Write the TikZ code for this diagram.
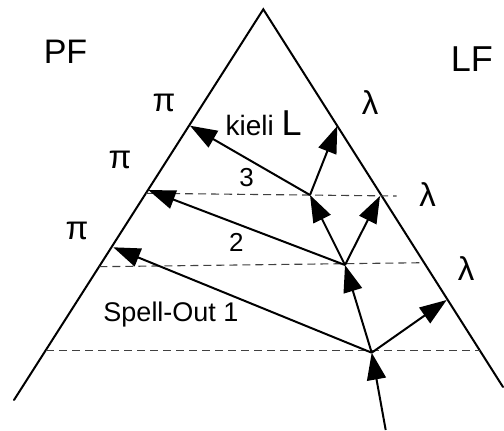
\documentclass[tikz,border=0pt]{standalone}
\usepackage{fontspec}
\setmainfont{Liberation Sans}
\usetikzlibrary{arrows.meta}
\tikzset{
  side/.style={line width=2pt, line cap=round},
  guide/.style={line width=1.1pt, dash pattern=on 8pt off 5pt, draw=black!75},
  arr/.style={line width=2pt, -{Triangle[length=27pt,width=19pt]}},
  lab/.style={anchor=base, inner sep=0pt},
  gk/.style={lab, font=\fontsize{33}{38}\selectfont},
}
\begin{document}
\begin{tikzpicture}[x=1pt,y=-1pt]
\useasboundingbox (0,0) rectangle (504,431);
% triangle
\coordinate (apex) at (263.3,9.3);
\coordinate (bl) at (14,400);
\coordinate (br) at (503,387);
\draw[side] (bl) -- (apex) -- (br);
% dashed levels
\coordinate (d1l) at (46,350.7);
\coordinate (d1r) at (480,350.7);
\coordinate (d2l) at (99.4,266.7);
\coordinate (d2r) at (424,262.7);
\coordinate (d3l) at (146.1,193.3);
\coordinate (d3r) at (396.7,196);
\draw[guide] (d1l) -- (d1r);
\draw[guide] (d2l) -- (d2r);
\draw[guide] (d3l) -- (d3r);
% derivation points
\coordinate (S) at (385.7,430);
\coordinate (A) at (371.7,352.7);
\coordinate (B) at (345,265);
\coordinate (C) at (310,195);
\coordinate (Lr1) at (446.7,300);
\coordinate (Lr2) at (380,196);
\coordinate (Lr3) at (337.3,126);
\coordinate (Pl1) at (113.3,247.3);
\coordinate (Pl2) at (148.3,190);
\coordinate (Pl3) at (190,125.7);
\draw[arr] (S) -- (A);
\draw[arr] (A) -- (B);
\draw[arr] (B) -- (C);
\draw[arr] (A) -- (Lr1);
\draw[arr] (B) -- (Lr2);
\draw[arr] (C) -- (Lr3);
\draw[arr] (A) -- (Pl1);
\draw[arr] (B) -- (Pl2);
\draw[arr] (C) -- (Pl3);
% labels
\node[lab, font=\fontsize{34}{38}\selectfont] (pf) at (65.5,63.3) {PF};
\node[lab, font=\fontsize{36}{40}\selectfont] (lf) at (471.8,71) {LF};
\node[gk] (pi1) at (164,111) {π};
\node[gk] (pi2) at (120,168.3) {π};
\node[gk] (pi3) at (77,239.3) {π};
\node[gk] (la1) at (370,114.3) {λ};
\node[gk] (la2) at (427.5,206.7) {λ};
\node[gk] (la3) at (466,280.7) {λ};
\node[lab, font=\fontsize{28}{32}\selectfont] (kieli) at (263.7,135) {kieli {\fontsize{36}{40}\selectfont L}};
\node[lab, font=\fontsize{26}{30}\selectfont] (n3) at (246.7,186) {3};
\node[lab, font=\fontsize{26}{30}\selectfont] (n2) at (236.3,251.7) {2};
\node[lab, font=\fontsize{27}{30}\selectfont] (so) at (171,321.7) {Spell-Out 1};
\end{tikzpicture}
\end{document}
